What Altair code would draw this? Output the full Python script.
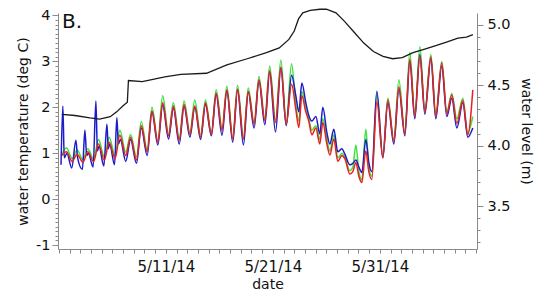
import altair as alt
import pandas as pd

START = pd.Timestamp("2014-05-01")
PANEL_LABEL = "B."
X_LABELS = ["5/11/14", "5/21/14", "5/31/14"]

# times in days since 5/1/14 00:00 (red & green share this grid)
RG_T = [0.3,
        0.7, 1.25, 1.7, 2.25, 2.7, 3.25, 3.7, 4.25, 4.7, 5.25, 5.7, 6.25, 6.7, 7.25,
        7.7, 8.25, 8.7, 9.25, 9.7, 10.25, 10.7, 11.25, 11.7, 12.25, 12.7, 13.25,
        13.7, 14.25, 14.7, 15.25, 15.7, 16.25, 16.7, 17.25, 17.7, 18.25, 18.7, 19.25,
        19.7, 20.25, 20.75, 21.25, 21.75,
        22.15, 22.43, 22.71, 23.08, 23.36, 23.64, 24.02, 24.39, 24.67, 25.05, 25.33,
        25.7, 26.07, 26.45, 26.73, 27.2, 27.48, 27.76, 28.04, 28.32, 28.69, 28.97, 29.25,
        29.72, 30.28, 30.75, 31.31, 31.78, 32.34, 32.8, 33.27, 33.74, 34.21, 34.77,
        35.23, 35.79, 36.26, 36.73, 37.2, 37.76, 38.22, 38.69]

RED = [0.95,
       1.03, 0.82, 0.98, 0.80, 1.03, 0.82, 1.20, 0.85, 1.24, 0.88, 1.39, 0.95, 1.35, 0.85,
       1.60, 1.03, 1.92, 1.24, 2.10, 1.38, 2.03, 1.28, 2.06, 1.41, 2.03, 1.35,
       2.10, 1.41, 2.31, 1.50, 2.38, 1.31, 2.40, 1.31, 2.35, 1.63, 2.60, 1.71,
       2.80, 1.67, 2.88, 1.63, 2.50,
       1.95, 1.56, 2.25, 1.90, 1.70, 1.40, 1.55, 1.20, 1.67, 1.20, 0.96,
       1.31, 0.82, 0.95, 0.88, 0.55, 0.60, 0.80, 0.50, 0.36, 1.05, 0.60, 0.43,
       2.12, 0.90, 2.16, 1.25, 2.45, 1.42, 3.05, 1.80, 3.12, 1.90, 3.10,
       1.80, 2.97, 1.86, 2.27, 1.65, 2.15, 1.40, 2.38]

GREEN = [0.98,
         1.12, 0.88, 1.07, 0.86, 1.10, 0.88, 1.30, 0.92, 1.35, 0.95, 1.50, 1.02, 1.41, 0.92,
         1.69, 1.08, 2.00, 1.28, 2.25, 1.42, 2.10, 1.32, 2.14, 1.45, 2.16, 1.40,
         2.16, 1.45, 2.38, 1.55, 2.46, 1.36, 2.48, 1.36, 2.42, 1.68, 2.67, 1.76,
         2.90, 1.72, 3.03, 1.68, 2.95,
         2.05, 1.70, 2.35, 1.95, 1.75, 1.50, 1.60, 1.30, 1.75, 1.30, 1.05,
         1.40, 0.90, 1.00, 0.92, 0.62, 0.70, 1.18, 0.60, 0.42, 1.52, 0.70, 0.50,
         2.30, 0.95, 2.20, 1.30, 2.60, 1.45, 3.20, 1.85, 3.32, 1.95, 3.15,
         1.85, 3.00, 1.90, 2.30, 1.75, 2.20, 1.45, 1.80]

BLUE_T = [0.2, 0.37, 0.5, 0.75, 1.2, 1.59, 1.75, 2.2, 2.43, 2.6, 2.75, 3.2, 3.46, 3.6,
          3.75, 4.2, 4.49, 4.62, 4.75, 5.2, 5.42, 5.56, 5.75, 6.25, 6.7, 7.25, 7.7, 8.25,
          8.7, 9.25, 9.7, 10.25, 10.7, 11.25, 11.7, 12.25, 12.7, 13.25, 13.7, 14.25,
          14.7, 15.25, 15.7, 16.25, 16.7, 17.25, 17.7, 18.25, 18.7, 19.25, 19.7, 20.25,
          20.75, 21.25, 21.75,
          22.15, 22.43, 22.71, 23.08, 23.36, 23.64, 24.02, 24.39, 24.67, 25.05, 25.33,
          25.7, 26.07, 26.45, 26.73, 27.2, 27.48, 27.76, 28.04, 28.32, 28.69, 28.97, 29.25,
          29.72, 30.28, 30.75, 31.31, 31.78, 32.34, 32.8, 33.27, 33.74, 34.21, 34.77,
          35.23, 35.79, 36.26, 36.73, 37.2, 37.76, 38.22, 38.69]

BLUE = [0.75, 2.03, 0.90, 1.00, 0.68, 1.28, 0.90, 0.65, 1.50, 0.95, 1.00, 0.70, 2.14, 1.05,
        1.15, 0.72, 1.63, 1.10, 1.20, 0.75, 1.78, 1.20, 1.30, 0.82, 1.30, 0.78, 1.55, 0.95,
        1.90, 1.18, 2.05, 1.31, 1.98, 1.20, 2.02, 1.35, 2.00, 1.30, 2.06, 1.38,
        2.28, 1.39, 2.36, 1.24, 2.38, 1.18, 2.33, 1.55, 2.58, 1.62, 2.76, 1.46,
        2.85, 1.60, 2.70,
        2.25, 1.90, 2.53, 2.10, 1.82, 1.70, 1.80, 1.42, 2.00, 1.45, 1.20,
        1.52, 1.03, 1.10, 0.98, 0.75, 0.78, 0.85, 0.70, 0.58, 1.30, 0.80, 0.60,
        2.35, 0.90, 2.10, 1.20, 2.40, 1.38, 3.00, 1.75, 3.15, 1.85, 3.05,
        1.75, 2.90, 1.80, 2.20, 1.55, 2.10, 1.35, 1.55]

LEVEL_T = [0.28, 1.5, 2.9, 3.8, 4.8, 5.4, 6.0, 6.4, 6.5, 7.8, 9.9, 11.4, 13.8, 15.7,
           17.6, 19.4, 20.6, 21.5, 22.0, 22.4, 22.8, 23.5, 24.4, 25.0, 25.9, 26.7,
           27.6, 28.5, 29.4, 30.3, 31.2, 32.1, 33.1, 34.2, 35.3, 36.3, 37.3, 38.1, 38.7]
LEVEL = [4.26, 4.25, 4.23, 4.22, 4.24, 4.28, 4.33, 4.36, 4.54, 4.53, 4.57, 4.59, 4.60, 4.67,
         4.72, 4.77, 4.81, 4.88, 4.95, 5.05, 5.10, 5.12, 5.13, 5.13, 5.10, 5.03,
         4.94, 4.85, 4.78, 4.74, 4.72, 4.73, 4.77, 4.80, 4.83, 4.86, 4.89, 4.90, 4.92]

TEMP_TICKS = [round(-1 + 0.1 * i, 1) for i in range(51)]
LEVEL_TICKS = [round(3.2 + 0.1 * i, 1) for i in range(19)]
DAY_TICKS = ([alt.DateTime(year=2014, month=5, date=d) for d in range(1, 32)]
             + [alt.DateTime(year=2014, month=6, date=d) for d in range(1, 10)])


def stamp(ts):
    return [START + pd.Timedelta(days=t) for t in ts]


red_df = pd.DataFrame({"date": stamp(RG_T), "temp": RED})
green_df = pd.DataFrame({"date": stamp(RG_T), "temp": GREEN})
blue_df = pd.DataFrame({"date": stamp(BLUE_T), "temp": BLUE})
level_df = pd.DataFrame({"date": stamp(LEVEL_T), "level": LEVEL})

FONT = "DejaVu Sans"
AX = dict(grid=False, domainColor="#8a8a8a", tickColor="#8a8a8a", labelColor="#111",
          titleColor="#111", labelFont=FONT, titleFont=FONT,
          titleFontSize=14, titleFontWeight="normal", labelOverlap=False)

lab_list = "[" + ",".join("'%s'" % s for s in X_LABELS) + "]"
x_enc = alt.X(
    "date:T",
    scale=alt.Scale(domain=[alt.DateTime(year=2014, month=4, date=30, hours=22),
                            alt.DateTime(year=2014, month=6, date=9, hours=2)], nice=False),
    axis=alt.Axis(values=DAY_TICKS, title="date", tickSize=4, labelPadding=6,
                  labelFlush=False, titlePadding=3, labelFontSize=15,
                  labelExpr="indexof(%s, timeFormat(datum.value, '%%-m/%%-d/%%y')) >= 0 ? "
                            "timeFormat(datum.value, '%%-m/%%-d/%%y') : ''" % lab_list,
                  **AX),
)

temp_axis = alt.Axis(
    values=TEMP_TICKS, title="water temperature (deg C)", orient="left", labelFontSize=14.5,
    labelExpr="abs(datum.value - round(datum.value)) < 0.001 ? '' + round(datum.value) : ''",
    tickSize={"condition": {"test": "abs(datum.value - round(datum.value)) < 0.001", "value": 6}, "value": 3},
    labelPadding=2, titlePadding=5, **AX)
y_temp = alt.Y("temp:Q", scale=alt.Scale(domain=[-1.086, 4.054], nice=False, zero=False),
               axis=temp_axis)


def temp_line(df, color):
    return alt.Chart(df).mark_line(color=color, strokeWidth=1.5, interpolate="monotone").encode(
        x=x_enc, y=y_temp)


temps = alt.layer(
    temp_line(green_df, "#3fe03f"),
    temp_line(blue_df, "#1c1cc8"),
    temp_line(red_df, "#e8231f"),
)

level_axis = alt.Axis(
    values=LEVEL_TICKS, title="water level (m)", orient="right", labelFontSize=14.5,
    labelExpr="abs(datum.value * 2 - round(datum.value * 2)) < 0.001 ? format(datum.value, '.1f') : ''",
    tickSize={"condition": {"test": "abs(datum.value * 2 - round(datum.value * 2)) < 0.001", "value": 6}, "value": 3},
    labelPadding=4, titlePadding=8, **AX)
level = alt.Chart(level_df).mark_line(color="#1a1a1a", strokeWidth=1.3).encode(
    x=x_enc,
    y=alt.Y("level:Q", scale=alt.Scale(domain=[3.144, 5.099], nice=False, zero=False),
            axis=level_axis),
)

label = alt.Chart(pd.DataFrame({"label": [PANEL_LABEL]})).mark_text(
    align="left", baseline="alphabetic", fontSize=20, font=FONT, color="#111"
).encode(text="label:N", x=alt.value(4), y=alt.value(15))

chart = alt.layer(temps, level, label).resolve_scale(y="independent").properties(
    width=419, height=236,
    autosize=alt.AutoSizeParams(type="none"),
    padding={"left": 50, "top": 5, "right": 65, "bottom": 43},
).configure_view(stroke=None)

chart.save("out.html", embed_options={"renderer": "svg", "actions": False})
